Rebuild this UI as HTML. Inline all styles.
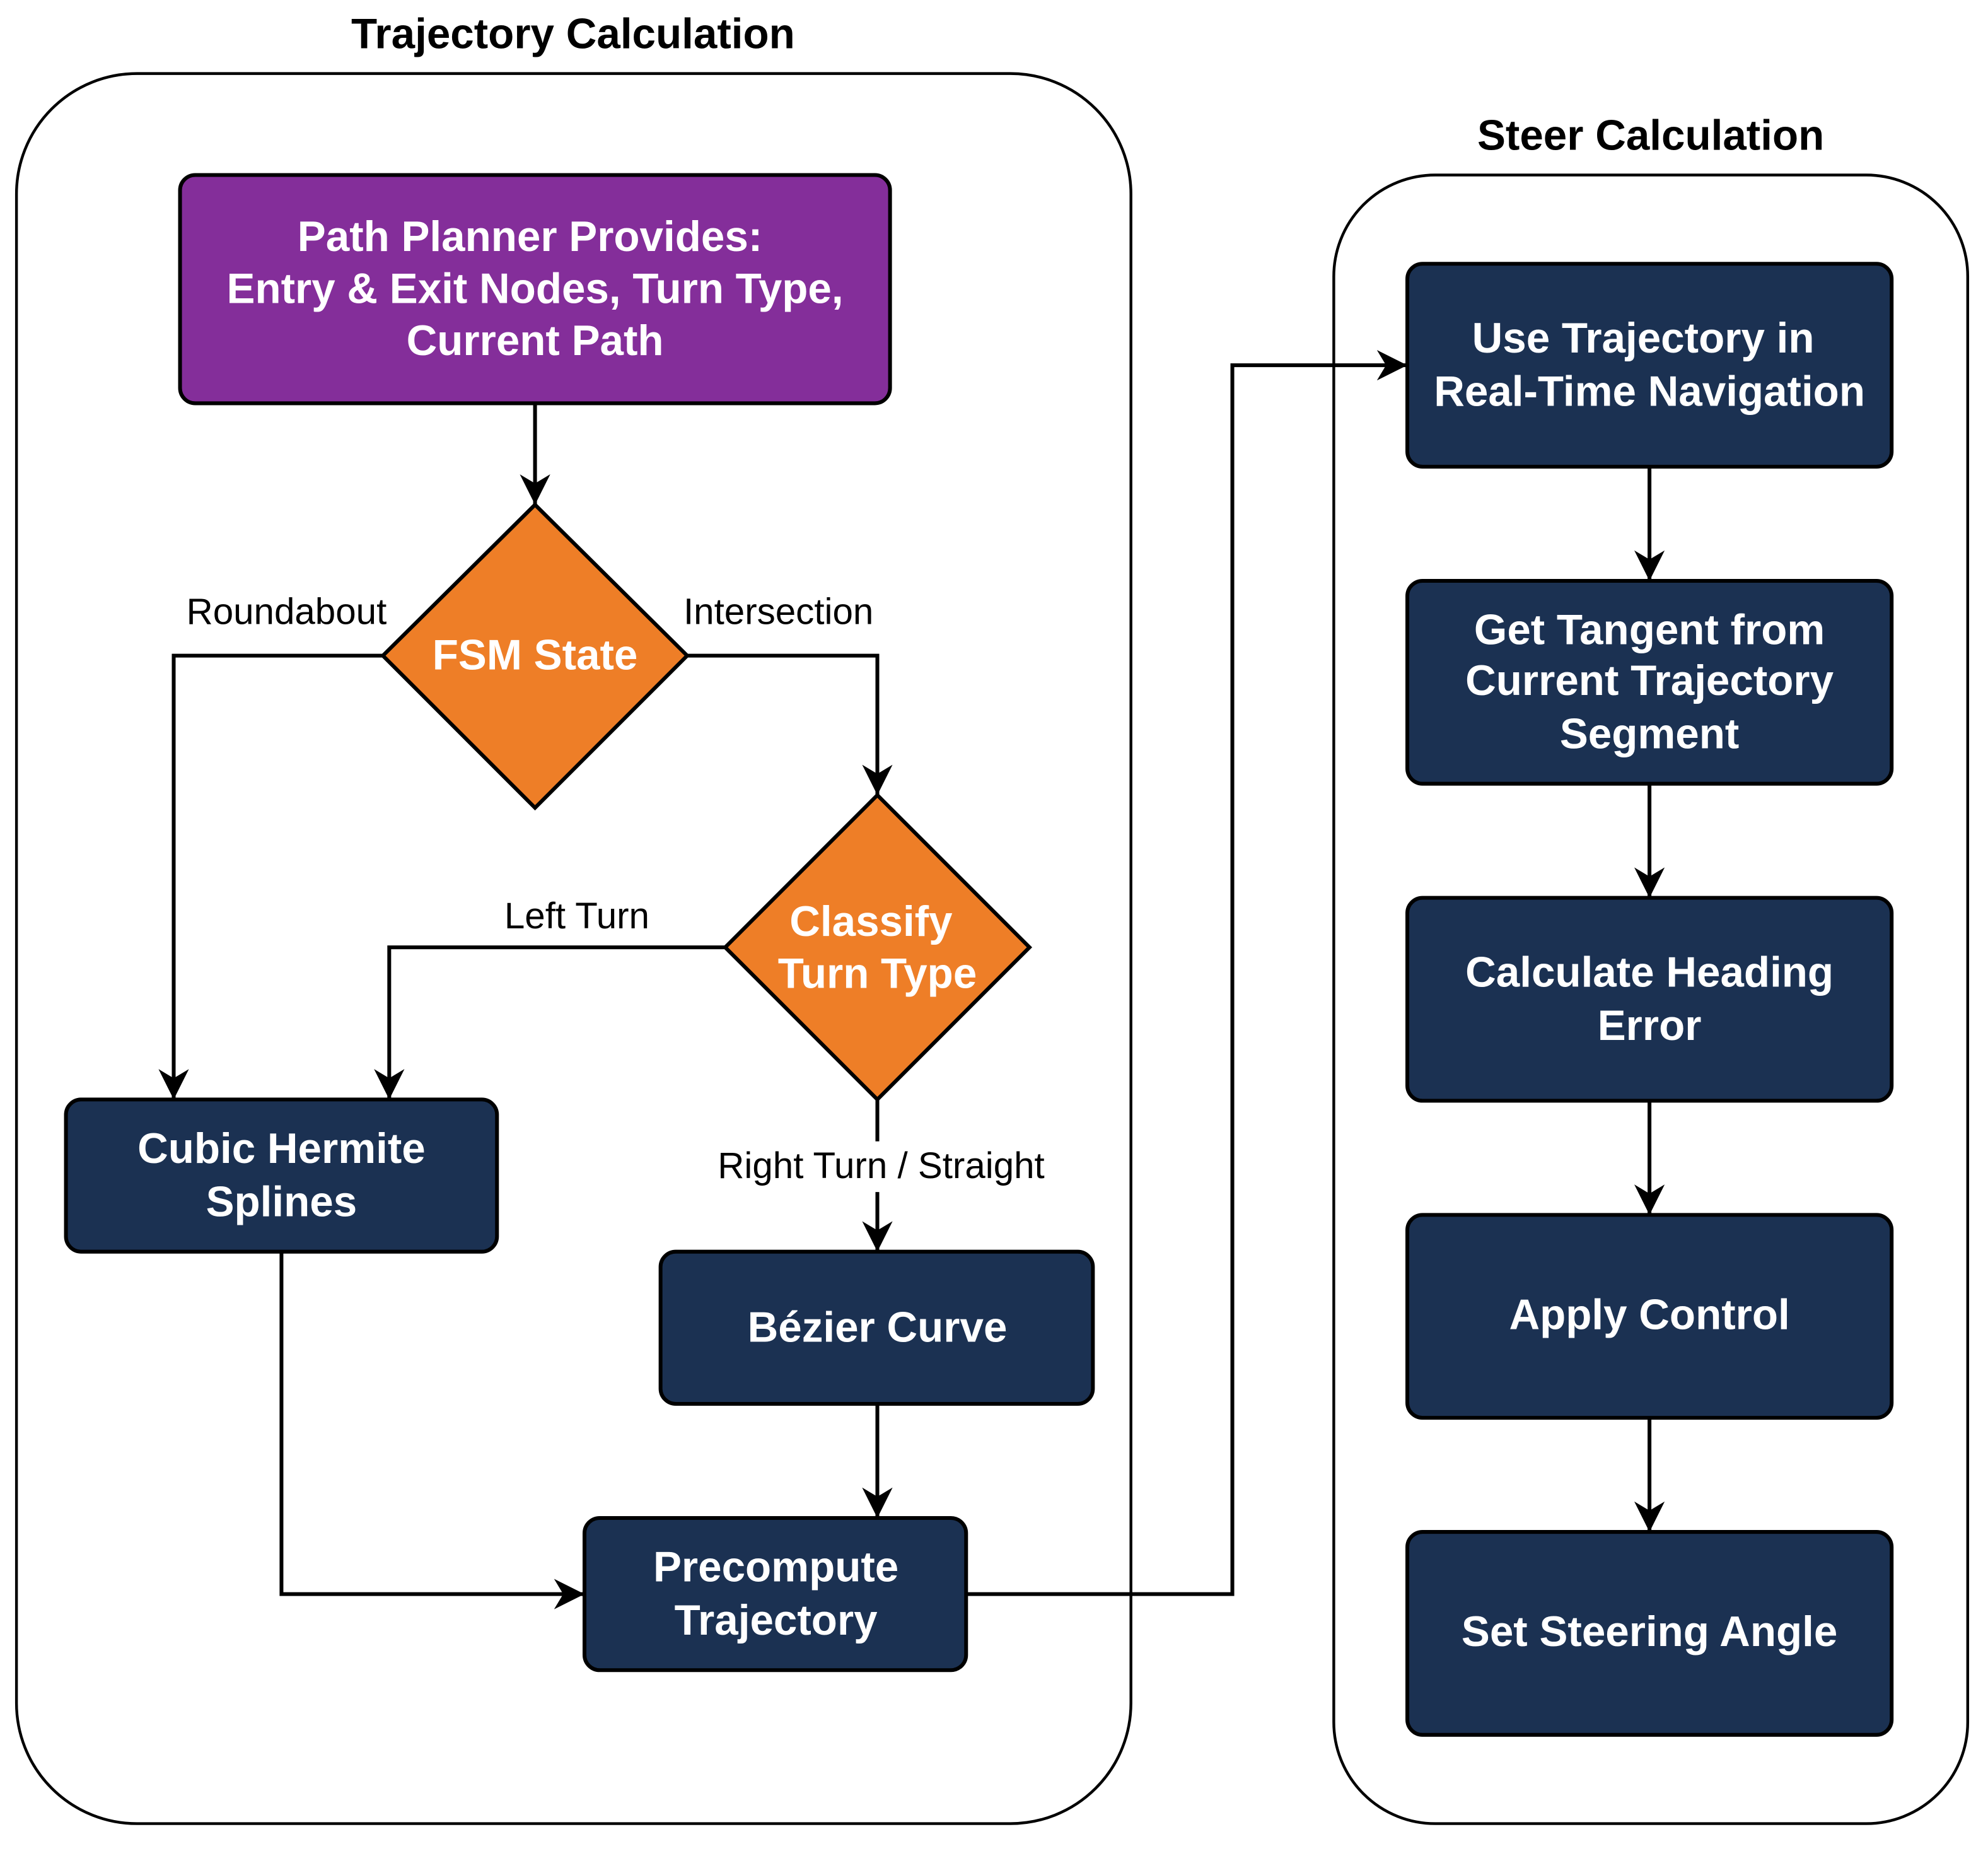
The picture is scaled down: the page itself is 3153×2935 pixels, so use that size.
<!DOCTYPE html>
<html><head><meta charset="utf-8"><style>html,body{margin:0;padding:0;background:#fff}svg{display:block}</style></head><body>
<svg width="3153" height="2935" viewBox="0 0 1568 1459.6" preserveAspectRatio="none" xmlns="http://www.w3.org/2000/svg" font-family="Liberation Sans, Arial, sans-serif">
<defs>
<marker id="b" viewBox="0 0 10 10" refX="10" refY="5" markerWidth="24" markerHeight="24" markerUnits="userSpaceOnUse" orient="auto"><path d="M0,0 L10,5 L0,10 L3,5 Z" fill="#000"/></marker></defs>
<g fill="none" stroke="#000" stroke-width="2.2">
<rect x="13" y="58" width="879" height="1380" rx="95"/>
<rect x="1052" y="138" width="500" height="1300" rx="80"/>
</g>
<g font-weight="bold" font-size="33.5" text-anchor="middle">
<text x="452" y="38">Trajectory Calculation</text>
<text x="1302" y="118">Steer Calculation</text>
</g>
<g fill="none" stroke="#000" stroke-width="3" marker-end="url(#b)">
<path d="M422,318 V398"/>
<path d="M302,517 H137 V867"/>
<path d="M542,517 H692 V627"/>
<path d="M572,747 H307 V867"/>
<path d="M692,940 V987"/>
<path d="M692,1107 V1197"/>
<path d="M222,987 V1257 H461"/>
<path d="M762,1257 H972 V288 H1110"/>
<path d="M1301,368 V458"/>
<path d="M1301,618 V708"/>
<path d="M1301,868 V958"/>
<path d="M1301,1118 V1208"/>
</g>
<path d="M692,867 V900" stroke="#000" stroke-width="3"/>
<g stroke="#000" stroke-width="3">
<rect x="142" y="138" width="560" height="180" rx="12" fill="#842E9A"/>
<path d="M422,398 L542,517 L422,637 L302,517 Z" fill="#EE7E27"/>
<path d="M692,627 L812,747 L692,867 L572,747 Z" fill="#EE7E27"/>
<g fill="#1B3152">
<rect x="52" y="867" width="340" height="120" rx="12"/>
<rect x="521" y="987" width="341" height="120" rx="12"/>
<rect x="461" y="1197" width="301" height="120" rx="12"/>
<rect x="1110" y="208" width="382" height="160" rx="12"/>
<rect x="1110" y="458" width="382" height="160" rx="12"/>
<rect x="1110" y="708" width="382" height="160" rx="12"/>
<rect x="1110" y="958" width="382" height="160" rx="12"/>
<rect x="1110" y="1208" width="382" height="160" rx="12"/>
</g></g>
<g fill="#fff" font-weight="bold" font-size="33.5" text-anchor="middle">
<text x="418" y="198">Path Planner Provides:</text>
<text x="422" y="239">Entry &amp; Exit Nodes, Turn Type,</text>
<text x="422" y="280">Current Path</text>
<text x="422" y="528">FSM State</text>
<text x="687" y="738">Classify</text>
<text x="692" y="779">Turn Type</text>
<text x="222" y="917">Cubic Hermite</text>
<text x="222" y="959">Splines</text>
<text x="692" y="1058">Bézier Curve</text>
<text x="612" y="1247">Precompute</text>
<text x="612" y="1289">Trajectory</text>
<text x="1296" y="278">Use Trajectory in</text>
<text x="1301" y="320">Real-Time Navigation</text>
<text x="1301" y="508">Get Tangent from</text>
<text x="1301" y="548">Current Trajectory</text>
<text x="1301" y="590">Segment</text>
<text x="1301" y="778">Calculate Heading</text>
<text x="1301" y="820">Error</text>
<text x="1301" y="1048">Apply Control</text>
<text x="1301" y="1298">Set Steering Angle</text>
</g>
<g font-size="29" text-anchor="middle">
<text x="226" y="492">Roundabout</text>
<text x="614" y="492">Intersection</text>
<text x="455" y="732">Left Turn</text>
<text x="695" y="929">Right Turn / Straight</text>
</g>
</svg>
</body></html>
